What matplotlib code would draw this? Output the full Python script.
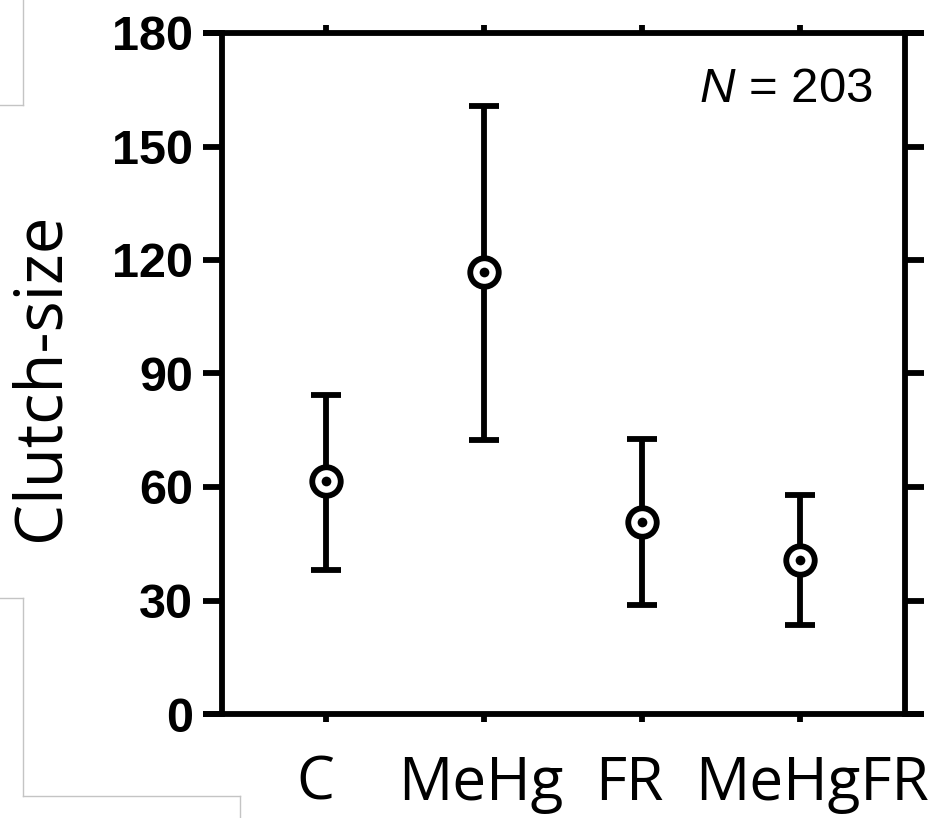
import matplotlib
matplotlib.use("Agg")
import matplotlib.pyplot as plt
from matplotlib.lines import Line2D
from matplotlib.transforms import ScaledTranslation, blended_transform_factory

# Clutch size per treatment: mean with lower/upper bounds
groups = ["C", "MeHg", "FR", "MeHgFR"]
means = [61.5, 116.7, 50.8, 40.7]
lower = [38.1, 72.5, 28.8, 23.5]
upper = [84.4, 160.8, 72.7, 57.9]
yticks = [0, 30, 60, 90, 120, 150, 180]
n_label = "203"

plt.rcParams["mathtext.fontset"] = "custom"
plt.rcParams["mathtext.rm"] = "Liberation Sans"
plt.rcParams["mathtext.it"] = "Liberation Sans:italic"

W, H = 940, 818
fig = plt.figure(figsize=(W / 100, H / 100), dpi=100)
fig.patch.set_facecolor("white")

left_px, right_px, top_px, bottom_px = 222, 905, 33, 714
ax = fig.add_axes([left_px / W, 1 - bottom_px / H,
                   (right_px - left_px) / W, (bottom_px - top_px) / H])

lw = 4.2
x = list(range(len(groups)))
yerr = [[m - lo for m, lo in zip(means, lower)],
        [hi - m for m, hi in zip(means, upper)]]

ax.errorbar(x, means, yerr=yerr, fmt="none", ecolor="black",
            elinewidth=lw, capsize=10.5, capthick=lw, zorder=3)
ax.plot(x, means, linestyle="none", marker="o", ms=20.5, mew=lw,
        mec="black", mfc="white", zorder=4)
ax.plot(x, means, linestyle="none", marker="o", ms=7, mew=0,
        mfc="black", zorder=5)

ax.set_xlim(-0.66, 3.665)
ax.set_ylim(0, 180)
ax.set_yticks(yticks)
ax.set_yticklabels([str(t) for t in yticks], fontfamily="Liberation Sans",
                   fontweight="bold", fontsize=35)
ax.set_xticks(x)
ax.set_xticklabels([])

# category labels under the ticks, with small horizontal nudges (pixels)
label_shift = [-11, -3, -13, 12]
base = blended_transform_factory(ax.transData, ax.transAxes)
for xi, name, dx in zip(x, groups, label_shift):
    tr = base + ScaledTranslation(dx / 100, -86 / 100, fig.dpi_scale_trans)
    ax.text(xi, 0, name, transform=tr, ha="center", va="baseline",
            fontfamily="Open Sans", fontsize=43.5, clip_on=False)

for side in ("left", "right"):
    ax.spines[side].set_linewidth(lw)
for side in ("top", "bottom"):
    ax.spines[side].set_visible(False)

# top and bottom frame lines run out to the ends of the y ticks
ext = 19 / (right_px - left_px)
for yy in (0, 1):
    ax.add_line(Line2D([-ext, 1 + ext], [yy, yy], transform=ax.transAxes,
                       color="black", lw=lw, solid_capstyle="butt",
                       clip_on=False, zorder=6))

ax.tick_params(axis="y", which="major", direction="out", length=13.7,
               width=lw, pad=7, left=True, right=True, labelright=False)
ax.tick_params(axis="x", which="major", direction="out", length=6,
               width=lw, bottom=True, top=True, labeltop=False)

ax.text(0.953, 0.899, r"$\mathit{N}$ = " + n_label, transform=ax.transAxes,
        ha="right", va="baseline", fontfamily="Liberation Sans", fontsize=35.5)

fig.text(42 / W, 1 - 377 / H, "Clutch-size", rotation=90, ha="center",
         va="center", fontfamily="Open Sans", fontsize=47)

# thin grey frame pieces along the left edge
grey = "#c4c4c4"
segs = [
    ([0, 23], [105, 105]), ([23, 23], [0, 105]),
    ([0, 23], [598, 598]), ([23, 23], [598, 796]),
    ([23, 240], [796, 796]), ([240, 240], [796, 818]),
]
for xs, ys in segs:
    fig.add_artist(Line2D([v / W for v in xs], [1 - v / H for v in ys],
                          transform=fig.transFigure, color=grey, lw=1.0))

fig.savefig("out.png", dpi=100, facecolor="white")
